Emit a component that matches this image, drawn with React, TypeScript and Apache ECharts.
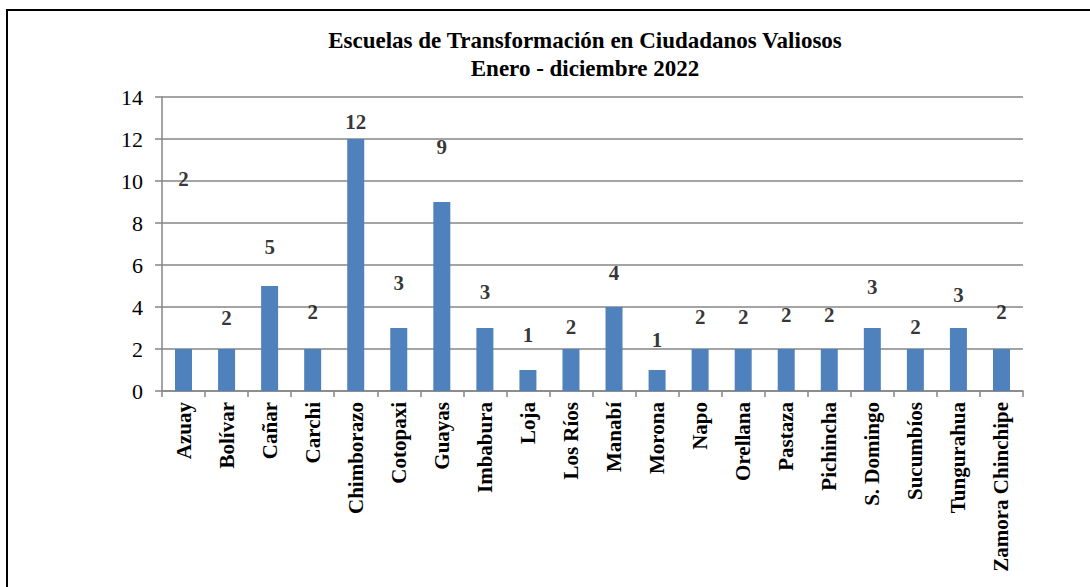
import React, { useEffect, useRef } from "react";
import * as echarts from "echarts";

const categories = [
  "Azuay", "Bolívar", "Cañar", "Carchi", "Chimborazo", "Cotopaxi", "Guayas",
  "Imbabura", "Loja", "Los Ríos", "Manabí", "Morona", "Napo", "Orellana",
  "Pastaza", "Pichincha", "S. Domingo", "Sucumbíos", "Tungurahua", "Zamora Chinchipe",
];
const values = [2, 2, 5, 2, 12, 3, 9, 3, 1, 2, 4, 1, 2, 2, 2, 2, 3, 2, 3, 2];
// where each value label sits, in axis units (labels were placed by hand in the original)
const labelAnchors = [
  10.1, 3.48, 6.86, 3.76, 12.81, 5.14, 11.62, 4.71, 2.67, 3.05,
  5.62, 2.43, 3.52, 3.52, 3.62, 3.62, 4.95, 3.05, 4.57, 3.76,
];
const yTicks = { min: 0, max: 14, interval: 2 };
const titleLines = ["Escuelas de Transformación en Ciudadanos Valiosos", "Enero - diciembre 2022"];

const SERIF = "Liberation Serif";

export default function App() {
  const ref = useRef<HTMLDivElement>(null);
  useEffect(() => {
    document.body.style.margin = "0";
    const chart = echarts.init(ref.current!, null, { renderer: "svg" });
    chart.setOption({
      animation: false,
      backgroundColor: "#ffffff",
      title: {
        text: titleLines.join("\n"),
        left: 580,
        top: 21,
        textAlign: "center",
        textStyle: {
          fontFamily: SERIF,
          fontWeight: "bold",
          fontSize: 23,
          lineHeight: 28,
          color: "#000",
        },
      },
      graphic: [
        {
          type: "rect",
          shape: { x: 7, y: 10, width: 1200, height: 700 },
          style: { fill: "none", stroke: "#000", lineWidth: 2 },
          silent: true,
          z: 100,
        },
      ],
      grid: { left: 162, right: 67, top: 97, bottom: 196, containLabel: false },
      xAxis: {
        type: "category",
        data: categories,
        axisLine: { lineStyle: { color: "#868686", width: 1.5 } },
        axisTick: { show: true, length: 6, lineStyle: { color: "#868686", width: 1.5 } },
        axisLabel: {
          rotate: 90,
          interval: 0,
          margin: 11,
          fontFamily: SERIF,
          fontWeight: "bold",
          fontSize: 21,
          color: "#000",
        },
      },
      yAxis: {
        type: "value",
        min: yTicks.min,
        max: yTicks.max,
        interval: yTicks.interval,
        axisLine: { show: true, lineStyle: { color: "#868686", width: 1.5 } },
        axisTick: { show: true, length: 7, lineStyle: { color: "#868686", width: 1.5 } },
        splitLine: { lineStyle: { color: "#868686", width: 1.5 } },
        axisLabel: {
          margin: 19,
          fontFamily: SERIF,
          fontSize: 22,
          color: "#000",
        },
      },
      series: [
        {
          type: "bar",
          data: values,
          barWidth: 17,
          itemStyle: { color: "#4F81BD" },
          z: 2,
        },
        {
          type: "scatter",
          data: labelAnchors,
          symbolSize: 0,
          z: 5,
          label: {
            show: true,
            position: "inside",
            formatter: (p: any) => String(values[p.dataIndex]),
            fontFamily: SERIF,
            fontWeight: "bold",
            fontSize: 21,
            color: "#000",
          },
        },
      ],
    });
    return () => chart.dispose();
  }, []);
  return <div ref={ref} style={{ width: 1090, height: 587 }} />;
}
